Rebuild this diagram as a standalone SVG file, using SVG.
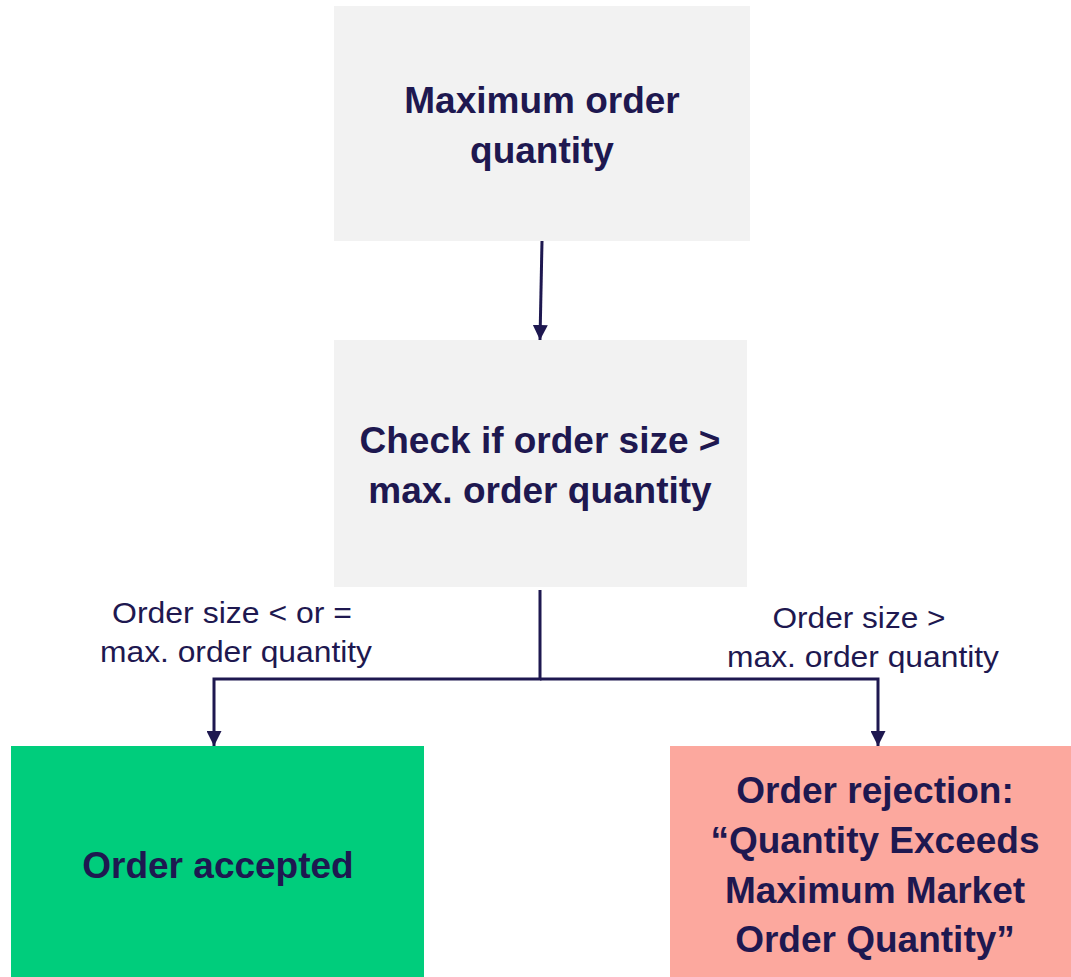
<svg xmlns="http://www.w3.org/2000/svg" width="1071" height="977" viewBox="0 0 1071 977">
<defs>
<marker id="ah" viewBox="0 0 10 10" refX="10" refY="5" markerWidth="5" markerHeight="5" markerUnits="strokeWidth" orient="auto">
<path d="M0,0 L10,5 L0,10 z" fill="#1e1850"/>
</marker>
<style>
.t{font-family:"Liberation Sans",Arial,sans-serif;font-weight:bold;font-size:37px;fill:#1e1850;text-anchor:middle}
.l{font-family:"Liberation Sans",Arial,sans-serif;font-size:29px;fill:#1e1850;text-anchor:middle}
.c{stroke:#1e1850;stroke-width:3;fill:none}
</style>
</defs>
<rect width="1071" height="977" fill="#ffffff"/>
<g id="connectors">
<line class="c" x1="542" y1="241" x2="540" y2="340" marker-end="url(#ah)"/>
<polyline class="c" points="540,590 540,679 214,679 214,746" marker-end="url(#ah)"/>
<polyline class="c" points="540,679 878,679 878,746" marker-end="url(#ah)"/>
<text class="l" x="232" y="623" textLength="240" lengthAdjust="spacingAndGlyphs">Order size &lt; or =</text>
<text class="l" x="236" y="662" textLength="272" lengthAdjust="spacingAndGlyphs">max. order quantity</text>
<text class="l" x="859" y="628" textLength="173" lengthAdjust="spacingAndGlyphs">Order size &gt;</text>
<text class="l" x="863" y="667" textLength="272" lengthAdjust="spacingAndGlyphs">max. order quantity</text>
</g>
<g id="node-max">
<rect x="334" y="6" width="416" height="235" fill="#f2f2f2"/>
<text class="t" x="542" y="113">Maximum order</text>
<text class="t" x="542" y="163">quantity</text>
</g>
<g id="node-check">
<rect x="334" y="340" width="413" height="247" fill="#f2f2f2"/>
<text class="t" x="540" y="453">Check if order size &gt;</text>
<text class="t" x="540" y="503">max. order quantity</text>
</g>
<g id="node-accepted">
<rect x="11" y="746" width="413" height="231" fill="#00cd7c"/>
<text class="t" x="218" y="878">Order accepted</text>
</g>
<g id="node-rejected">
<rect x="670" y="746" width="401" height="231" fill="#fca89e"/>
<text class="t" x="875" y="803">Order rejection:</text>
<text class="t" x="875" y="853">“Quantity Exceeds</text>
<text class="t" x="875" y="903">Maximum Market</text>
<text class="t" x="875" y="952">Order Quantity”</text>
</g>
</svg>
